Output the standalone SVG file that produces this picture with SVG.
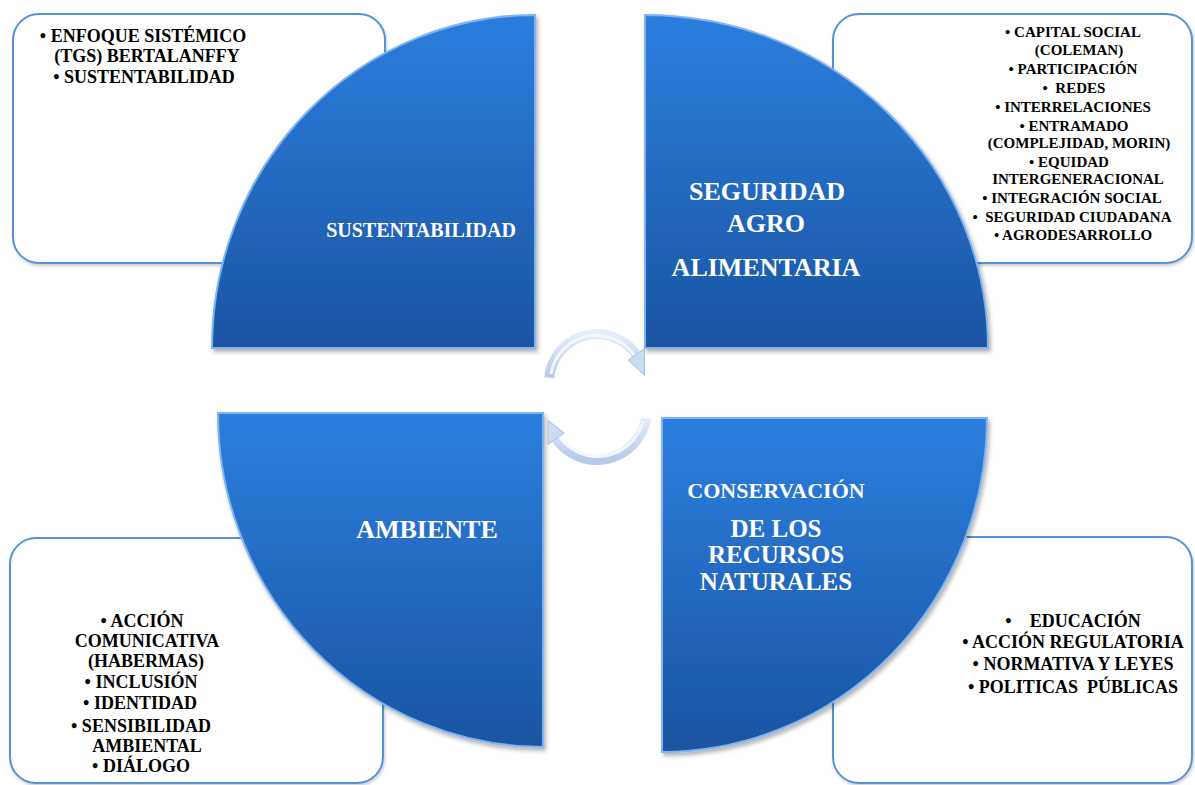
<svg xmlns="http://www.w3.org/2000/svg" width="1195" height="785" viewBox="0 0 1195 785">
<defs>
<linearGradient id="qg" x1="0" y1="0" x2="0" y2="1">
<stop offset="0" stop-color="#2c7ede"/>
<stop offset="1" stop-color="#1b55a2"/>
</linearGradient>
<linearGradient id="ag" x1="0" y1="0" x2="0" y2="1">
<stop offset="0" stop-color="#e4edf9"/>
<stop offset="1" stop-color="#b6cbea"/>
</linearGradient>
<filter id="sh" x="-10%" y="-10%" width="120%" height="120%">
<feDropShadow dx="2" dy="3" stdDeviation="2" flood-color="#000" flood-opacity="0.3"/>
</filter>
<filter id="bsh" x="-5%" y="-5%" width="110%" height="110%">
<feDropShadow dx="1" dy="2" stdDeviation="1.5" flood-color="#000" flood-opacity="0.2"/>
</filter>
</defs>
<style>
.box{fill:#fff;stroke:#5592da;stroke-width:2;filter:url(#bsh)}
.quad{fill:url(#qg);stroke:#7fb4ef;stroke-width:2;filter:url(#sh)}
.bt{font-family:"Liberation Serif","Times New Roman",serif;font-weight:bold;fill:#000;text-anchor:middle}
.qt{font-family:"Liberation Serif","Times New Roman",serif;font-weight:bold;fill:#fff;text-anchor:middle}
.band{fill:none;stroke:url(#ag);stroke-width:10;stroke-linecap:butt}
.bandhl{fill:none;stroke:#f4f8fe;stroke-width:3}
.head{fill:#cddbf1;stroke:#a8c0e4;stroke-width:1}
</style>
<rect width="1195" height="785" fill="#fff"/>

<g id="box-tl">
<rect class="box" x="13" y="14" width="372" height="249" rx="26"/>
<text class="bt" font-size="18" xml:space="preserve"><tspan x="143" y="42">• ENFOQUE SISTÉMICO</tspan><tspan x="147" y="62">(TGS) BERTALANFFY</tspan><tspan x="144" y="83">• SUSTENTABILIDAD</tspan></text>
</g>
<g id="box-tr">
<rect class="box" x="833" y="14" width="359" height="249" rx="26"/>
<text class="bt" font-size="15" xml:space="preserve"><tspan x="1073" y="37">• CAPITAL SOCIAL</tspan><tspan x="1079" y="55">(COLEMAN)</tspan><tspan x="1073" y="74">• PARTICIPACIÓN</tspan><tspan x="1074" y="93">•  REDES</tspan><tspan x="1073" y="112">• INTERRELACIONES</tspan><tspan x="1074" y="131">• ENTRAMADO</tspan><tspan x="1079" y="148">(COMPLEJIDAD, MORIN)</tspan><tspan x="1069" y="167">• EQUIDAD</tspan><tspan x="1078" y="184">INTERGENERACIONAL</tspan><tspan x="1072" y="203">• INTEGRACIÓN SOCIAL</tspan><tspan x="1072" y="222">•  SEGURIDAD CIUDADANA</tspan><tspan x="1073" y="240">• AGRODESARROLLO</tspan></text>
</g>
<g id="box-bl">
<rect class="box" x="10" y="538" width="373" height="245" rx="26"/>
<text class="bt" font-size="18" xml:space="preserve"><tspan x="142" y="627">• ACCIÓN</tspan><tspan x="147" y="647">COMUNICATIVA</tspan><tspan x="146" y="667">(HABERMAS)</tspan><tspan x="141" y="688">• INCLUSIÓN</tspan><tspan x="140" y="709">• IDENTIDAD</tspan><tspan x="141" y="732">• SENSIBILIDAD</tspan><tspan x="147" y="752">AMBIENTAL</tspan><tspan x="141" y="772">• DIÁLOGO</tspan></text>
</g>
<g id="box-br">
<rect class="box" x="833" y="537" width="359" height="246" rx="26"/>
<text class="bt" font-size="18" xml:space="preserve"><tspan x="1073" y="627">•    EDUCACIÓN</tspan><tspan x="1073" y="648">• ACCIÓN REGULATORIA</tspan><tspan x="1073" y="670">• NORMATIVA Y LEYES</tspan><tspan x="1073" y="693">• POLITICAS  PÚBLICAS</tspan></text>
</g>

<g id="q-sustentabilidad">
<path class="quad" d="M535,348 L212,348 A323,333 0 0 1 535,15 Z"/>
<text class="qt" font-size="20" x="421" y="237">SUSTENTABILIDAD</text>
</g>
<g id="q-seguridad">
<path class="quad" d="M645,348 L645,15 A343,333 0 0 1 988,348 Z"/>
<text class="qt" font-size="26"><tspan x="767" y="200">SEGURIDAD</tspan><tspan x="766" y="232">AGRO</tspan><tspan x="766" y="276">ALIMENTARIA</tspan></text>
</g>
<g id="q-ambiente">
<path class="quad" d="M543,413 L543,747 A325,334 0 0 1 218,413 Z"/>
<text class="qt" font-size="26" x="427" y="538">AMBIENTE</text>
</g>
<g id="q-conservacion">
<path class="quad" d="M662,418 L987,418 A325,334 0 0 1 662,752 Z"/>
<text class="qt" font-size="22" x="776" y="498">CONSERVACIÓN</text>
<text class="qt" font-size="25"><tspan x="776" y="537">DE LOS</tspan><tspan x="776" y="563">RECURSOS</tspan><tspan x="776" y="590">NATURALES</tspan></text>
</g>

<g id="connectors">
<g id="arrow-top">
<path class="band" d="M549.2,377.8 A48,48 0 0 1 637.7,356.6"/>
<path class="bandhl" d="M551,374 A46,46 0 0 1 634,355"/>
<polygon class="head" points="644.5,348.7 644.5,375.3 628.1,360.2"/>
</g>
<g id="arrow-bottom">
<path class="band" d="M646.2,418.7 A50,50 0 0 1 554.6,436.5"/>
<path class="bandhl" d="M643,421 A47,47 0 0 1 558,435"/>
<polygon class="head" points="547.9,444.4 548.1,420.4 564.2,433"/>
</g>
</g>
</svg>
